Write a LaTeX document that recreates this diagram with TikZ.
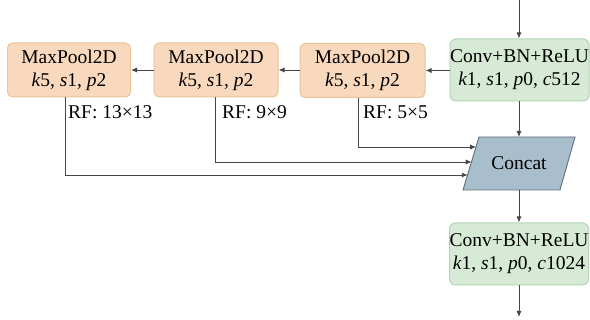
\documentclass[tikz,border=0pt]{standalone}
\usepackage{fontspec}
\setmainfont{Liberation Serif}
\newfontfamily\diagfont{Liberation Serif}
\usetikzlibrary{arrows.meta,calc}
\definecolor{poolfill}{RGB}{249,217,190}
\definecolor{pooldraw}{RGB}{232,196,152}
\definecolor{convfill}{RGB}{214,234,214}
\definecolor{convdraw}{RGB}{180,212,180}
\definecolor{catfill}{RGB}{168,190,205}
\definecolor{catdraw}{RGB}{95,110,122}
\definecolor{wire}{RGB}{70,70,70}
\tikzset{
  lbl/.style={font=\diagfont\fontsize{19.5}{23}\selectfont, inner sep=0pt},
  poolbox/.style={lbl, draw=pooldraw, fill=poolfill, rounded corners=5pt,
    line width=1pt, align=center, minimum height=54pt},
  convbox/.style={lbl, draw=convdraw, fill=convfill, rounded corners=6pt,
    line width=1pt, align=center, minimum height=62pt},
  flow/.style={draw=wire, line width=0.9pt, -{Latex[length=6pt,width=5pt]}},
}
\newcommand{\ks}[3]{{\itshape k}#1, {\itshape s}#2, {\itshape p}#3}
\begin{document}
\begin{tikzpicture}[x=1pt,y=-1pt]
  \useasboundingbox (0,0) rectangle (590,320);
  % pooling chain
  \node[poolbox, minimum width=123pt] (mp1) at (69,70) {MaxPool2D\\\ks{5}{1}{2}};
  \node[poolbox, minimum width=124pt] (mp2) at (216,70) {MaxPool2D\\\ks{5}{1}{2}};
  \node[poolbox, minimum width=125pt] (mp3) at (362.5,70.5) {MaxPool2D\\\ks{5}{1}{2}};
  % convolutions
  \node[convbox, minimum width=137pt] (cv1) at (519.5,70) {Conv+BN+ReLU\\\ks{1}{1}{0}, {\itshape c}512};
  \node[convbox, minimum width=138pt] (cv2) at (519,254) {Conv+BN+ReLU\\\ks{1}{1}{0}, {\itshape c}1024};
  % concat parallelogram
  \coordinate (ctl) at (479,137);
  \coordinate (ctr) at (575,137);
  \coordinate (cbr) at (560,190);
  \coordinate (cbl) at (463,190);
  \draw[draw=catdraw, fill=catfill, line width=0.9pt] (ctl) -- (ctr) -- (cbr) -- (cbl) -- cycle;
  \node[lbl] (cat) at (519,163.5) {Concat};
  \coordinate (cattop) at (519,137);
  \coordinate (catbot) at (519,190);
  \coordinate (in3) at (476.2,147);
  \coordinate (in2) at (471.7,162);
  \coordinate (in1) at (467.8,175);
  % receptive field labels
  \node[lbl, anchor=west] (rf1) at (68,112) {RF: 13×13};
  \node[lbl, anchor=west] (rf2) at (222,112) {RF: 9×9};
  \node[lbl, anchor=west] (rf3) at (363,112) {RF: 5×5};
  % open ends
  \coordinate (top) at (519,0);
  \coordinate (bot) at (519,317);
  % connectors
  \draw[flow] (top) -- (cv1.north -| top);
  \draw[flow] (cv1.west |- mp3.east) -- (mp3.east);
  \draw[flow] (mp3.west |- mp2.east) -- (mp2.east);
  \draw[flow] (mp2.west |- mp1.east) -- (mp1.east);
  \draw[flow] (cv1.south -| top) -- (cattop);
  \draw[flow] (catbot) -- (cv2.north -| catbot);
  \draw[flow] (cv2.south -| bot) -- (bot);
  \draw[flow] ($(mp3.south)+(-4.5,0)$) |- (in3);
  \draw[flow] ($(mp2.south)+(-1,0)$) |- (in2);
  \draw[flow] ($(mp1.south)+(-4,0)$) |- (in1);
\end{tikzpicture}
\end{document}
